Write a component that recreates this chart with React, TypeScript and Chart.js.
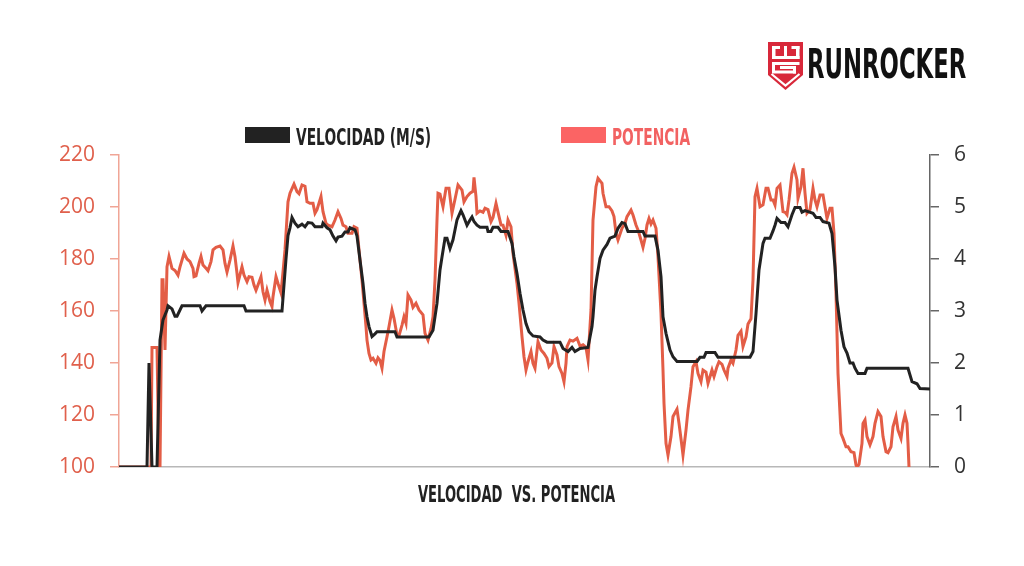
import { useEffect, useRef } from 'react';
import { Chart, registerables } from 'chart.js';

Chart.register(...registerables);

// ---- DATA (time in seconds) ----
const velTime = [
  0, 28, 30, 33, 38, 41, 44, 48, 49, 53,
  56, 58, 63, 81, 83, 87, 125, 127, 163, 165,
  167, 169, 171, 173, 176, 179, 183, 186, 189, 193,
  196, 203, 204, 208, 211, 214, 217, 219, 223, 226,
  229, 231, 236, 238, 241, 244, 246, 248, 250, 253,
  256, 258, 276, 278, 310, 314, 318, 321, 323, 326,
  328, 331, 334, 338, 342, 344, 348, 351, 353, 355,
  358, 361, 368, 369, 372, 374, 379, 382, 389, 393,
  395, 398, 401, 404, 407, 410, 414, 421, 424, 428,
  441, 444, 449, 453, 456, 461, 469, 473, 474, 476,
  478, 481, 484, 488, 491, 496, 499, 503, 506, 509,
  524, 526, 536, 539, 542, 544, 547, 551, 554, 558,
  578, 581, 585, 587, 596, 599, 631, 634, 637, 640,
  644, 646, 651, 654, 656, 658, 662, 666, 669, 673,
  676, 681, 683, 686, 694, 697, 701, 704, 710, 713,
  716, 718, 722, 725, 728, 731, 734, 736, 739, 746,
  748, 789, 793, 798, 801, 811,
];
const velocidad = [
  0, 0, 2.0, 0, 0, 2.44, 2.83, 3.02, 3.1, 3.04,
  2.9, 2.9, 3.1, 3.1, 3.0, 3.1, 3.1, 3.0, 3.0, 3.5,
  4.0, 4.45, 4.6, 4.8, 4.69, 4.62, 4.67, 4.62, 4.7, 4.69,
  4.62, 4.62, 4.69, 4.6, 4.56, 4.44, 4.35, 4.42, 4.44, 4.52,
  4.52, 4.6, 4.56, 4.44, 3.98, 3.53, 3.15, 2.89, 2.7, 2.51,
  2.56, 2.6, 2.6, 2.5, 2.5, 2.63, 3.15, 3.79, 4.04, 4.4,
  4.4, 4.2, 4.37, 4.75, 4.93, 4.85, 4.65, 4.75, 4.81, 4.72,
  4.65, 4.61, 4.61, 4.53, 4.53, 4.61, 4.61, 4.53, 4.53, 4.3,
  4.04, 3.72, 3.34, 3.02, 2.76, 2.6, 2.52, 2.5, 2.44, 2.4,
  2.4, 2.28, 2.22, 2.3, 2.22, 2.28, 2.3, 2.7, 2.89, 3.4,
  3.66, 4.01, 4.17, 4.28, 4.4, 4.44, 4.59, 4.7, 4.68, 4.53,
  4.53, 4.44, 4.44, 4.17, 3.66, 2.89, 2.57, 2.25, 2.12, 2.03,
  2.03, 2.11, 2.11, 2.2, 2.2, 2.11, 2.11, 2.22, 2.95, 3.79,
  4.3, 4.4, 4.4, 4.54, 4.65, 4.78, 4.7, 4.7, 4.62, 4.85,
  4.99, 4.99, 4.9, 4.93, 4.88, 4.8, 4.8, 4.72, 4.69, 4.49,
  3.85, 3.21, 2.63, 2.31, 2.19, 2.0, 2.0, 1.9, 1.8, 1.8,
  1.9, 1.9, 1.64, 1.6, 1.51, 1.5,
];

const powTime = [
  0, 32, 33, 38, 40, 41, 43, 44, 46, 48,
  50, 53, 56, 59, 61, 65, 68, 71, 74, 75,
  77, 80, 82, 84, 87, 89, 92, 94, 97, 101,
  104, 106, 108, 111, 114, 116, 118, 119, 123, 125,
  128, 130, 133, 135, 137, 139, 142, 144, 146, 148,
  151, 153, 154, 157, 159, 162, 164, 166, 169, 171,
  175, 178, 180, 183, 186, 188, 191, 194, 196, 198,
  202, 204, 207, 209, 213, 216, 219, 222, 224, 227,
  229, 233, 235, 238, 240, 243, 245, 247, 248, 250,
  252, 254, 257, 259, 261, 263, 265, 268, 270, 273,
  275, 278, 280, 283, 285, 287, 289, 292, 294, 297,
  300, 304, 306, 309, 312, 314, 316, 318, 319, 321,
  324, 327, 330, 333, 336, 339, 343, 345, 348, 351,
  354, 355, 357, 358, 361, 364, 366, 369, 372, 374,
  377, 379, 382, 384, 387, 389, 392, 394, 398, 400,
  403, 405, 407, 409, 412, 414, 416, 419, 422, 425,
  428, 430, 433, 435, 438, 440, 443, 445, 447, 448,
  451, 454, 458, 461, 464, 467, 469, 472, 474, 477,
  479, 483, 484, 487, 490, 493, 495, 497, 499, 503,
  506, 508, 512, 514, 517, 519, 522, 524, 526, 528,
  530, 532, 534, 537, 539, 542, 544, 545, 547, 549,
  552, 554, 558, 560, 563, 564, 567, 569, 572, 574,
  577, 579, 582, 584, 587, 589, 593, 595, 598, 600,
  603, 605, 608, 609, 612, 614, 617, 619, 622, 624,
  627, 629, 632, 634, 636, 638, 641, 644, 647, 649,
  652, 654, 656, 658, 661, 664, 666, 668, 670, 673,
  675, 678, 679, 682, 684, 686, 688, 691, 694, 696,
  698, 701, 704, 706, 708, 711, 713, 715, 717, 719,
  722, 724, 727, 729, 732, 735, 737, 738, 740, 743,
  744, 746, 748, 751, 754, 756, 759, 762, 764, 767,
  769, 772, 774, 777, 779, 782, 784, 786, 788, 789,
  790,
];
const potencia = [
  100, 100, 146, 146, 100, 100, 172, 172, 145, 177,
  181, 176.4, 175.6, 173.8, 177, 182.2, 180, 179, 176.4, 173.2,
  173.5, 178.3, 181, 177.7, 176.4, 175.5, 179, 183.5, 184.5, 185,
  183.5, 178.3, 175, 179.6, 185, 180.9, 174.5, 170.9, 177, 173.8,
  171.3, 173.2, 173, 170, 168, 170, 173.2, 167.4, 164.2, 168,
  163.6, 161.7, 165.5, 173.2, 170.6, 167, 175, 183.5, 202, 205.3,
  208.8, 205.9, 205.1, 208.5, 208, 202, 201.4, 201.4, 197.6, 199,
  204, 198.2, 193.7, 193, 192.4, 195, 198.2, 195.6, 193, 192.4,
  189.9, 189.9, 192.4, 191.8, 183.5, 171.9, 163, 154, 148.8, 143.7,
  141.2, 141.8, 139.9, 142, 141, 138, 144.4, 150.1, 154, 160.4,
  157.2, 150.8, 150.5, 154.6, 157.8, 155.3, 166.2, 164.2, 161.4, 163,
  160.4, 158.5, 151.4, 148.8, 153.3, 157.8, 171.9, 195, 205.3, 205,
  200.1, 207.2, 207.2, 197.6, 203, 208.5, 206.5, 202, 204, 205.3,
  206, 211.4, 204, 197.6, 198.5, 198, 199.5, 199, 194.4, 196,
  201.4, 198, 193.1, 193, 189.2, 195, 192.4, 182.2, 170.6, 163,
  150.1, 142.4, 137.3, 140.5, 144.4, 139.9, 138, 148.2, 145, 143.7,
  141.8, 138.6, 140, 146.3, 143.1, 138.6, 136, 132.8, 139.9, 146.3,
  148.8, 148.4, 149.5, 146.5, 147, 146, 141.2, 160.4, 195, 207.8,
  211, 209.1, 205.3, 200.1, 200.1, 198.5, 196.3, 189.9, 187.3, 191.8,
  193.7, 196.3, 198.8, 196.9, 193.1, 191.2, 187.3, 184.5, 187.9, 193.1,
  195.6, 193.5, 195, 191.8, 180.9, 159.1, 137.3, 124.5, 109.1, 104.6,
  111.7, 119.4, 122.2, 116.8, 107.8, 104.6, 114.2, 121.9, 130.9, 138.6,
  140.5, 136, 132.8, 137.3, 136.5, 132.2, 137.3, 134.8, 138.6, 140.5,
  139.5, 137.3, 134.8, 138, 141.2, 139.9, 145, 150.6, 152.2, 146.3,
  150, 155, 157, 172, 204, 207.2, 200.1, 200.8, 207.2, 207.2,
  202.7, 202.7, 200.8, 207.2, 208.5, 198.2, 198, 197, 202.7, 213,
  215.3, 210.4, 203.3, 207.8, 214.9, 205.3, 197.6, 199, 207.2, 202.7,
  200.1, 204.6, 204.6, 200.1, 195.6, 199.5, 199.5, 189.9, 166.8, 136,
  112.9, 111, 107.8, 107.8, 105.9, 105.5, 100.8, 100, 101, 109.1,
  116.8, 118.1, 111.7, 108.5, 111.7, 116.8, 121.3, 119.4, 111.7, 105.9,
  105.5, 107.8, 115.5, 119.4, 114.2, 111, 116.8, 120, 116.8, 109.1,
  100,
];

const SERIES_LABELS = ['VELOCIDAD (M/S)', 'POTENCIA'];
const CHART_TITLE = 'VELOCIDAD  VS. POTENCIA';
const BRAND = 'RUNROCKER';
const leftTicks = { min: 100, max: 220, step: 20 };
const rightTicks = { min: 0, max: 6, step: 1 };

// ---- STYLE ----
const BLACK = '#222222';
const ORANGE = '#e35d46';
const LEGEND_ORANGE = '#fb6464';
const COND = 0.57; // horizontal compression for the condensed display face

function condText(
  ctx: CanvasRenderingContext2D,
  text: string,
  x: number,
  y: number,
  size: number,
  color: string,
  align: 'left' | 'center' = 'left',
  cond: number = COND,
) {
  ctx.save();
  ctx.font = `bold ${size}px 'DejaVu Sans', sans-serif`;
  ctx.fillStyle = color;
  ctx.textBaseline = 'alphabetic';
  ctx.textAlign = 'left';
  const w = ctx.measureText(text).width * cond;
  const left = align === 'center' ? x - w / 2 : x;
  ctx.translate(left, y);
  ctx.scale(cond, 1);
  ctx.fillText(text, 0, 0);
  ctx.restore();
}

const decorPlugin = {
  id: 'decor',
  afterDraw(chart: any) {
    const ctx: CanvasRenderingContext2D = chart.ctx;
    const area = chart.chartArea;
    // legend
    const legendColors = [BLACK, LEGEND_ORANGE];
    const textColors = [BLACK, '#f26262'];
    const legendX = [245, 561];
    chart.data.datasets.forEach((ds: any, i: number) => {
      ctx.save();
      ctx.fillStyle = legendColors[i];
      ctx.fillRect(legendX[i], area.top - 28, 45, 16);
      ctx.restore();
      condText(ctx, ds.label, legendX[i] + 51, area.top - 10.5, 23, textColors[i], 'left', 0.6);
    });
    // title (bottom)
    condText(ctx, CHART_TITLE, (area.left + area.right) / 2 - 8, area.bottom + 35, 23, BLACK, 'center');

    // brand logo
    ctx.save();
    ctx.fillStyle = '#d8283a';
    ctx.beginPath();
    ctx.moveTo(768, 42);
    ctx.lineTo(803, 42);
    ctx.lineTo(803, 75);
    ctx.lineTo(785.5, 90);
    ctx.lineTo(768, 75);
    ctx.closePath();
    ctx.fill();
    ctx.strokeStyle = '#ffffff';
    ctx.lineWidth = 2.2;
    ctx.beginPath();
    ctx.moveTo(771.5, 74);
    ctx.lineTo(785.5, 85.5);
    ctx.lineTo(799.5, 74);
    ctx.stroke();
    ctx.fillStyle = '#ffffff';
    ctx.fillRect(772, 46, 3.5, 13);
    ctx.fillRect(796, 46, 3.5, 13);
    ctx.fillRect(772, 46, 8, 3);
    ctx.fillRect(791.5, 46, 8, 3);
    ctx.fillRect(784, 46, 3, 11);
    ctx.fillRect(772, 56, 27.5, 3);
    ctx.fillRect(772, 62, 27.5, 3);
    ctx.fillRect(772, 62, 3, 11);
    ctx.fillRect(772, 70.5, 24, 3);
    ctx.fillRect(793, 66, 3, 7.5);
    ctx.fillRect(780, 66, 13, 3);
    ctx.restore();
    condText(ctx, BRAND, 807, 78, 41, '#111111', 'left', 0.555);
  },
};

export default function App() {
  const ref = useRef<HTMLCanvasElement>(null);
  useEffect(() => {
    document.body.style.margin = '0';
    const canvas = ref.current;
    if (!canvas) return;
    const chart = new Chart(canvas, {
      type: 'line',
      data: {
        datasets: [
          {
            label: SERIES_LABELS[0],
            data: velTime.map((t, i) => ({ x: t, y: velocidad[i] })),
            yAxisID: 'y1',
            borderColor: BLACK,
            backgroundColor: BLACK,
            borderWidth: 3,
            pointRadius: 0,
            tension: 0,
          },
          {
            label: SERIES_LABELS[1],
            data: powTime.map((t, i) => ({ x: t, y: potencia[i] })),
            yAxisID: 'y',
            borderColor: ORANGE,
            backgroundColor: ORANGE,
            borderWidth: 3,
            pointRadius: 0,
            tension: 0,
          },
        ],
      },
      options: {
        responsive: false,
        animation: false,
        events: [],
        layout: { padding: { top: 155, bottom: 99, left: 0, right: 0 } },
        plugins: {
          legend: { display: false },
          tooltip: { enabled: false },
          title: { display: false },
        },
        scales: {
          x: {
            type: 'linear',
            min: 0,
            max: 811,
            ticks: { display: false },
            grid: { display: true, drawOnChartArea: false, drawTicks: false },
            border: { display: true, color: '#b8b8b8', width: 1.5 },
            afterFit: (s: any) => {
              s.height = 0;
            },
          },
          y: {
            position: 'left',
            min: leftTicks.min,
            max: leftTicks.max,
            ticks: {
              stepSize: leftTicks.step,
              color: '#e0604c',
              font: { family: "'Open Sans', sans-serif", size: 21 },
              padding: 15,
            },
            grid: { drawOnChartArea: false, drawTicks: true, tickLength: 9, color: '#f0a596', lineWidth: 1.5 },
            border: { display: true, color: '#f0a596', width: 1.5 },
            afterFit: (s: any) => {
              s.width = 119;
            },
          },
          y1: {
            position: 'right',
            min: rightTicks.min,
            max: rightTicks.max,
            ticks: {
              stepSize: rightTicks.step,
              color: '#333333',
              font: { family: "'Open Sans', sans-serif", size: 21 },
              padding: 15,
            },
            grid: { drawOnChartArea: false, drawTicks: true, tickLength: 9, color: '#666666', lineWidth: 1.5 },
            border: { display: true, color: '#666666', width: 1.5 },
            afterFit: (s: any) => {
              s.width = 94;
            },
          },
        },
      },
      plugins: [decorPlugin],
    });
    return () => chart.destroy();
  }, []);
  return (
    <div style={{ width: 1024, height: 566, background: '#ffffff' }}>
      <canvas ref={ref} width={1024} height={566} style={{ display: 'block' }} />
    </div>
  );
}
